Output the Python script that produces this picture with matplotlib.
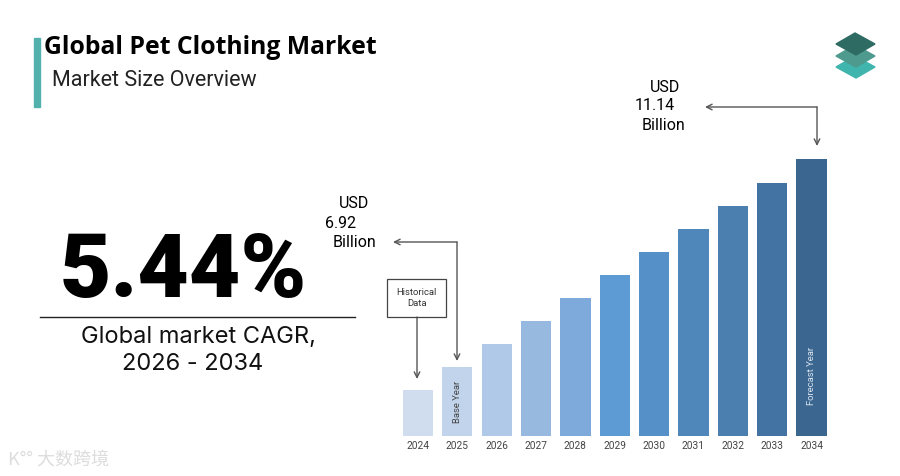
import matplotlib.pyplot as plt
from matplotlib.patches import Polygon, Rectangle

years = ["2024", "2025", "2026", "2027", "2028", "2029", "2030", "2031", "2032", "2033", "2034"]
# bar heights as drawn (arbitrary display units)
heights = [46, 69, 92, 115, 138, 161, 184, 207, 230, 253, 277]
bar_colors = ["#d0ddef", "#c2d4ec", "#b0c9e8", "#97b9df", "#7eaadb", "#5d9bd5",
              "#5590c8", "#4f87bb", "#4a7fb0", "#4273a2", "#3a6690"]
cagr = "5.44%"
base_value = "6.92"
final_value = "11.14"

W, H = 900, 476
fig = plt.figure(figsize=(9, 4.76), dpi=100)
fig.patch.set_facecolor("white")

def fx(px):
    return px / W

def fy(py):
    return 1 - py / H

# bars axes
ax = fig.add_axes([fx(398.3), fy(436), fx(432.9), 300 / H])
ax.bar(range(len(years)), heights, width=0.77, color=bar_colors)
ax.set_xlim(-0.5, len(years) - 0.5)
ax.set_ylim(0, 300)
ax.axis("off")
for i, yr in enumerate(years):
    ax.text(i, -10, yr, ha="center", va="center", fontsize=7.3, color="#444444",
            family="Roboto")
ax.text(1, heights[1] / 2, "Base Year", rotation=90, ha="center", va="center",
        fontsize=6.8, color="#444444", family="Roboto")
ax.text(10, 60, "Forecast Year", rotation=90, ha="center", va="center",
        fontsize=6.8, color="#dce6f2", family="Roboto")

# title block
fig.patches.append(Rectangle((fx(34), fy(107)), fx(6), 69 / H, color="#52b1ad",
                             transform=fig.transFigure))
fig.text(fx(44), fy(47), "Global Pet Clothing Market", fontsize=17.8, fontweight="bold",
         family="Open Sans", va="center", ha="left")
fig.text(fx(52), fy(80), "Market Size Overview", fontsize=15.5, family="Roboto",
         va="center", ha="left", color="#222222")

# CAGR block
fig.text(fx(183), fy(272), cagr, fontsize=64, fontweight="black", family="Roboto",
         ha="center", va="center")
fig.add_artist(plt.Line2D([fx(40), fx(355)], [fy(317), fy(317)], color="#222222", lw=1))
fig.text(fx(198), fy(337), "Global market CAGR,", fontsize=17, family="Inter",
         ha="center", va="center", color="#111111")
fig.text(fx(193), fy(364), "2026 - 2034", fontsize=17, family="Inter",
         ha="center", va="center", color="#111111")

# value annotations
fig.text(fx(354), fy(204), "USD", fontsize=11.5, family="Roboto", ha="center", va="center")
fig.text(fx(325), fy(224), base_value, fontsize=11.5, family="Roboto", ha="left", va="center")
fig.text(fx(333), fy(243), "Billion", fontsize=11.5, family="Roboto", ha="left", va="center")

fig.text(fx(665), fy(87), "USD", fontsize=11.5, family="Roboto", ha="center", va="center")
fig.text(fx(635), fy(106), final_value, fontsize=11.5, family="Roboto", ha="left", va="center")
fig.text(fx(642), fy(126), "Billion", fontsize=11.5, family="Roboto", ha="left", va="center")

arrow = dict(arrowstyle="->", color="#555555", lw=1, shrinkA=0, shrinkB=0)
ax.annotate("", xy=(fx(393), fy(242)), xytext=(fx(457), fy(242)),
            xycoords="figure fraction", arrowprops=arrow)
ax.annotate("", xy=(fx(457), fy(361)), xytext=(fx(457), fy(242)),
            xycoords="figure fraction", arrowprops=arrow)
ax.annotate("", xy=(fx(705), fy(107)), xytext=(fx(817), fy(107)),
            xycoords="figure fraction", arrowprops=arrow)
ax.annotate("", xy=(fx(817), fy(146)), xytext=(fx(817), fy(107)),
            xycoords="figure fraction", arrowprops=arrow)
ax.annotate("", xy=(fx(417), fy(379)), xytext=(fx(417), fy(317)),
            xycoords="figure fraction", arrowprops=arrow)

# historical data box
fig.patches.append(Rectangle((fx(387), fy(317)), fx(59), 38 / H, fill=False,
                             edgecolor="#444444", lw=0.9, transform=fig.transFigure))
fig.text(fx(416.5), fy(298), "Historical\nData", fontsize=6.8, family="Roboto",
         ha="center", va="center", color="#333333", linespacing=1.4)

# logo
for cy, col in [(67, "#3fb5ad"), (56, "#4e9a8f"), (44, "#2e6b63")]:
    pts = [(fx(836), fy(cy)), (fx(855), fy(cy - 11)), (fx(875), fy(cy)), (fx(856), fy(cy + 11))]
    fig.patches.append(Polygon(pts, closed=True, color=col, transform=fig.transFigure))

# watermark
fig.text(fx(8), fy(460), "K°° 大数跨境", fontsize=13, color="#dddddd",
         family=["Noto Sans CJK SC", "DejaVu Sans"], ha="left", va="center")

fig.savefig("out.png", dpi=100)
